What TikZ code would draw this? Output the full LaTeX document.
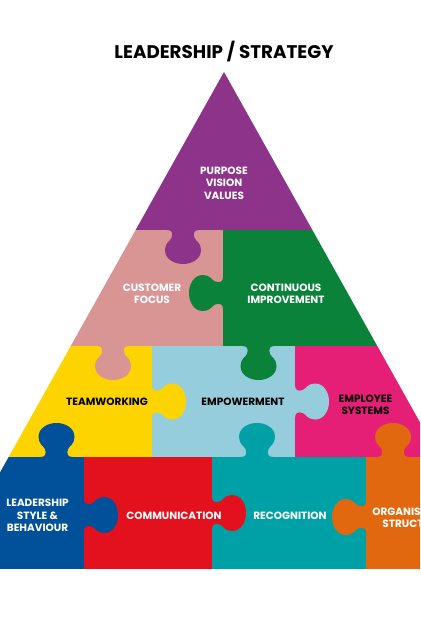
\documentclass[tikz,border=0pt]{standalone}
\usepackage{fontspec}
\newfontfamily\puzzlefont{Poppins}
\definecolor{purpleP}{HTML}{8D3389}
\definecolor{roseP}{HTML}{D89594}
\definecolor{greenP}{HTML}{0A823A}
\definecolor{yellowP}{HTML}{FDD400}
\definecolor{skyP}{HTML}{95CDDC}
\definecolor{magentaP}{HTML}{E61F76}
\definecolor{blueP}{HTML}{00509A}
\definecolor{redP}{HTML}{E2111D}
\definecolor{tealP}{HTML}{00A0A7}
\definecolor{orangeP}{HTML}{E2680F}
% puzzle tab: colour, base point on the edge, rotation (0 = pointing down)
\newcommand{\knob}[3]{%
  \begin{scope}[shift={(#2)},rotate=#3]
    \fill[#1] (-16,-1) -- (-16,0) .. controls (-11,0) and (-10,3) .. (-11.5,8)
      .. controls (-13,11) and (-18,13) .. (-18,20)
      .. controls (-18,29) and (-9,34) .. (0,34)
      .. controls (9,34) and (18,29) .. (18,20)
      .. controls (18,13) and (13,11) .. (11.5,8)
      .. controls (10,3) and (11,0) .. (16,0) -- (16,-1) -- cycle;
  \end{scope}}
\begin{document}
\begin{tikzpicture}
  [x=1pt,y=-1pt,
   every node/.style={inner sep=0pt,align=center},
   lbl/.style={text=white,font=\puzzlefont\bfseries\fontsize{10.5}{12.3}\selectfont},
   dlbl/.style={lbl,text=black},
   toplbl/.style={font=\puzzlefont\bfseries\fontsize{18.3}{20}\selectfont}]
  \useasboundingbox (0,0) rectangle (420,620);
  \clip (0,0) rectangle (420,620);
  \begin{scope}
    \clip (224,72) -- (-54,569) -- (502,569) -- cycle;
    % rows of pieces
    \fill[purpleP] (-60,60) rectangle (480,230);
    \fill[roseP] (-60,230) rectangle (223,346);
    \fill[greenP] (223,230) rectangle (480,346);
    \fill[yellowP] (-60,346) rectangle (152,457);
    \fill[skyP] (152,346) rectangle (295,457);
    \fill[magentaP] (295,346) rectangle (480,457);
    \fill[blueP] (-60,457) rectangle (84,569);
    \fill[redP] (84,457) rectangle (212,569);
    \fill[tealP] (212,457) rectangle (366,569);
    \fill[orangeP] (366,457) rectangle (480,569);
    % tabs
    \knob{purpleP}{183,230}{0}
    \knob{greenP}{223,293}{-90}
    \knob{roseP}{113,346}{0}
    \knob{greenP}{258.5,346}{0}
    \knob{yellowP}{152,401.5}{90}
    \knob{skyP}{295,401.5}{90}
    \knob{blueP}{56.5,457}{180}
    \knob{tealP}{257,457}{180}
    \knob{orangeP}{393,457}{180}
    \knob{blueP}{84,515}{90}
    \knob{redP}{212,513}{90}
    \knob{orangeP}{366,517}{-90}
  \end{scope}
  \node[toplbl] (title) at (224,51.5) {LEADERSHIP / STRATEGY};
  \node[lbl] (purpose) at (224,183) {PURPOSE\\VISION\\VALUES};
  \node[lbl] (customer) at (152,293.5) {CUSTOMER\\FOCUS};
  \node[lbl] (continuous) at (286,293.5) {CONTINUOUS\\IMPROVEMENT};
  \node[dlbl] (teamwork) at (107,401.5) {TEAMWORKING};
  \node[dlbl] (empower) at (243,401.5) {EMPOWERMENT};
  \node[dlbl] (employee) at (365.5,404.5) {EMPLOYEE\\SYSTEMS};
  \node[lbl] (leader) at (37.5,515.5) {LEADERSHIP\\STYLE \&\\BEHAVIOUR};
  \node[lbl] (comm) at (174,515.5) {COMMUNICATION};
  \node[lbl] (recog) at (290,515.5) {RECOGNITION};
  \node[lbl] (organis) at (413,517.5) {ORGANISATION\\STRUCTURE};
\end{tikzpicture}
\end{document}
